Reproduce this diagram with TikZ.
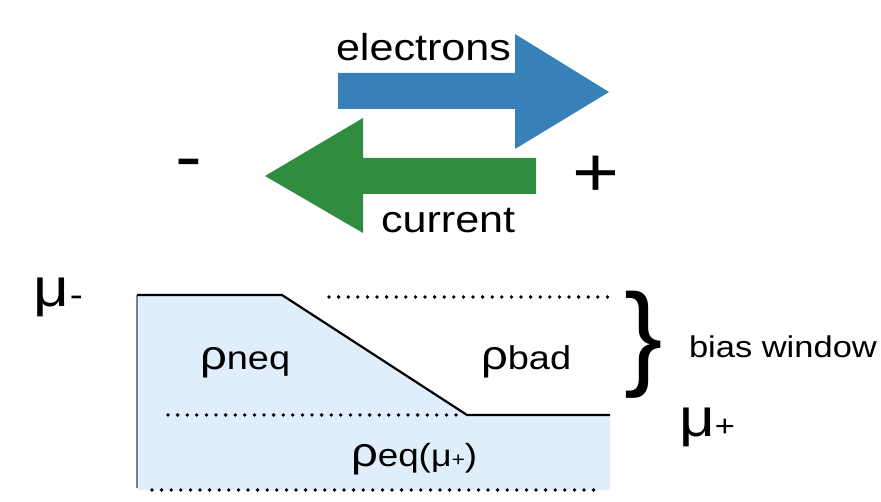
\documentclass[tikz,border=0pt]{standalone}
\usepackage{fontspec}
\setmainfont{Liberation Sans}
\newfontfamily\hf[FakeStretch=1.15]{Liberation Sans}
\newfontfamily\hn{Liberation Sans}
\newcommand{\fsz}[1]{\fontsize{#1}{#1}\selectfont}
\definecolor{arrblue}{RGB}{56,128,184}
\definecolor{arrgreen}{RGB}{48,140,62}
\definecolor{fillblue}{RGB}{224,238,251}
\definecolor{edgegray}{RGB}{120,130,145}
\tikzset{
  lbl/.style={inner sep=0pt, outer sep=0pt, font=\hf},
  level/.style={line width=2.2pt, black, line join=miter},
}
\newcommand{\dotrow}[3]{% from x #1 to x #2 at y #3
  \pgfmathsetmacro{\dstep}{#1+9.6}
  \foreach \xx in {#1,\dstep,...,#2} \fill (\xx,#3) circle (1.9);
}
\begin{document}
\begin{tikzpicture}[x=1pt,y=-1pt]
\useasboundingbox (0,0) rectangle (881,502);
% arrows
\fill[arrblue] (338,73) -- (515,73) -- (515,34) -- (609,92) -- (515,149) -- (515,109) -- (338,109) -- cycle;
\fill[arrgreen] (536,158) -- (363,158) -- (363,118) -- (265,176) -- (363,233) -- (363,194) -- (536,194) -- cycle;
\node[lbl, anchor=base west] (el) at (336,61) {\fsz{37.5}electrons};
\node[lbl, anchor=base west] (cu) at (381,233) {\fsz{37.5}current};
\node[lbl] (minus) at (189,170) {\fsz{70}-};
\node[lbl] (plus) at (596,176) {\fsz{70}+};
% band region
\fill[fillblue] (137,295) -- (282,295) -- (467,415) -- (610,415) -- (610,490) -- (137,490) -- cycle;
\draw[edgegray, line width=2pt] (137,295) -- (137,488);
\draw[level] (137,295) -- (282,295) -- (467,415) -- (610,415);
\dotrow{329}{612}{297}
\dotrow{168}{460}{415}
\dotrow{152}{602}{490}
% labels
\node[lbl, anchor=base west] (mum) at (34,307) {\fsz{54}μ\fsz{34}-};
\node[lbl, anchor=base west] (mup) at (679,436) {\fsz{54}μ\fsz{30}+};
\node[lbl, anchor=base west] (rneq) at (200,370) {\fsz{41}ρ\fsz{33}neq};
\node[lbl, anchor=base west] (rbad) at (481,370) {\fsz{41}ρ\fsz{33}bad};
\node[lbl, anchor=base west] (req) at (351,467) {\fsz{41}ρ\fsz{32}eq(\fsz{31}μ\fsz{20}+\fsz{32})};
\node[inner sep=0pt, font=\hn] (brace) at (644,345) {\fsz{115}\}};
\node[lbl, anchor=base west] (bw) at (689,358) {\fsz{30}bias window};
\end{tikzpicture}
\end{document}
